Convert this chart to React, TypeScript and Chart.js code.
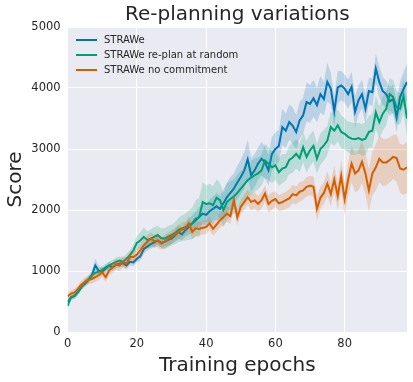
import React, { useEffect, useRef } from "react";
import { Chart, registerables } from "chart.js";

Chart.register(...registerables);

const epochs: number[] = Array.from({ length: 99 }, (_, i) => i);

const straweMean: number[] = [
  490, 570, 590, 660, 740, 790, 850, 930, 1090, 1000,
  990, 1040, 1090, 1060, 1100, 1120, 1130, 1090, 1150, 1140,
  1200, 1240, 1360, 1400, 1440, 1470, 1500, 1460, 1480, 1510,
  1530, 1580, 1640, 1600, 1670, 1720, 1780, 1830, 1890, 1940,
  1920, 1980, 2020, 2060, 2020, 2110, 2210, 2280, 2350, 2450,
  2540, 2650, 2830, 2570, 2650, 2760, 2840, 2780, 2650, 2920,
  3000, 3050, 3360, 3300, 3440, 3380, 3280, 3470, 3550, 3770,
  3740, 3830, 3720, 3900, 3820, 4100, 3990, 3620, 4010, 4040,
  3990, 3900, 4020, 3610, 3800, 3900, 3660, 3950, 3930, 4320,
  4100, 3950, 3900, 3780, 3820, 3520, 3850, 3980, 4100,
];
const straweSd: number[] = [
  40, 40, 45, 50, 50, 55, 60, 70, 110, 80,
  60, 55, 60, 60, 55, 60, 60, 55, 60, 60,
  60, 70, 80, 70, 70, 80, 80, 75, 80, 90,
  90, 100, 110, 100, 110, 130, 140, 150, 160, 180,
  170, 190, 200, 220, 210, 230, 240, 260, 250, 270,
  280, 300, 320, 280, 270, 260, 280, 260, 250, 280,
  270, 260, 300, 280, 290, 300, 280, 300, 290, 320,
  310, 300, 280, 300, 270, 320, 260, 250, 270, 240,
  230, 240, 250, 260, 240, 230, 250, 220, 230, 240,
  260, 230, 220, 240, 230, 250, 260, 280, 300,
];

const randomMean: number[] = [
  430, 570, 590, 650, 740, 820, 860, 930, 970, 990,
  1020, 1060, 1090, 1120, 1150, 1170, 1150, 1200, 1260, 1340,
  1460, 1500, 1560, 1510, 1530, 1560, 1590, 1540, 1530, 1560,
  1590, 1620, 1670, 1700, 1720, 1750, 1780, 1860, 1880, 2130,
  2100, 2110, 2080, 2200, 2160, 2000, 2130, 2180, 2220, 2280,
  2350, 2420, 2490, 2530, 2570, 2600, 2650, 2810, 2760, 2700,
  2730, 2620, 2680, 2700, 2820, 2860, 2920, 2850, 3030, 2870,
  2980, 3050, 2840, 3000, 3060, 3140, 3360, 3300, 3390, 3280,
  3250, 3200, 3170, 3160, 3180, 3150, 3170, 3280, 3300, 3600,
  3440, 3580, 3660, 3900, 3850, 3680, 3660, 3870, 3500,
];
const randomSd: number[] = [
  50, 45, 45, 45, 50, 50, 55, 55, 55, 60,
  60, 60, 60, 65, 70, 70, 75, 80, 85, 90,
  110, 130, 150, 140, 150, 160, 150, 160, 170, 180,
  170, 180, 200, 210, 220, 240, 260, 300, 320, 330,
  300, 320, 310, 300, 290, 280, 300, 290, 280, 300,
  290, 270, 260, 280, 270, 260, 250, 280, 270, 260,
  240, 230, 240, 220, 230, 250, 240, 230, 250, 260,
  260, 250, 240, 260, 250, 240, 260, 250, 260, 270,
  260, 250, 270, 260, 250, 260, 270, 260, 280, 270,
  260, 280, 270, 260, 280, 270, 260, 280, 300,
];

const noCommitMean: number[] = [
  580, 630, 650, 710, 780, 820, 860, 870, 900, 930,
  980, 900, 1010, 1060, 1110, 1090, 1150, 1120, 1230, 1230,
  1270, 1340, 1420, 1480, 1530, 1490, 1500, 1450, 1480, 1520,
  1560, 1600, 1640, 1680, 1700, 1780, 1640, 1700, 1690, 1710,
  1720, 1780, 1690, 1760, 1830, 1880, 1940, 1900, 2160, 1880,
  2050, 2130, 2210, 2130, 2160, 2100, 2160, 2270, 2100, 2150,
  2180, 2110, 2130, 2160, 2190, 2260, 2240, 2300, 2320, 2380,
  2400, 2380, 2020, 2200, 2280, 2430, 2260, 2500, 2230, 2560,
  2180, 2500, 2760, 2600, 2650, 2790, 2600, 2320, 2600, 2700,
  2840, 2780, 2780, 2820, 2870, 2850, 2680, 2660, 2700,
];
const noCommitSd: number[] = [
  60, 60, 60, 60, 70, 70, 70, 75, 80, 80,
  80, 80, 80, 85, 90, 90, 95, 90, 95, 100,
  100, 100, 110, 100, 100, 110, 110, 100, 110, 110,
  110, 110, 120, 120, 110, 120, 120, 120, 110, 110,
  110, 110, 110, 120, 120, 130, 130, 130, 140, 130,
  120, 120, 130, 140, 130, 130, 140, 130, 140, 140,
  130, 130, 140, 140, 150, 150, 150, 160, 150, 160,
  160, 170, 200, 180, 180, 200, 200, 220, 220, 250,
  260, 280, 300, 310, 330, 350, 340, 350, 360, 380,
  380, 390, 380, 370, 360, 390, 400, 410, 420,
];

const seriesNames: string[] = ["STRAWe", "STRAWe re-plan at random", "STRAWe no commitment"];
const seriesColors: string[] = ["#0173B2", "#029E73", "#D55E00"];
const bandColors: string[] = ["rgba(1,115,178,0.2)", "rgba(2,158,115,0.2)", "rgba(213,94,0,0.2)"];
const yTicks: number[] = [0, 1000, 2000, 3000, 4000, 5000];
const xTicks: number[] = [0, 20, 40, 60, 80];

const TEXT = "#262626";
const FONT = "'DejaVu Sans', sans-serif";

export default function App() {
  const ref = useRef<HTMLCanvasElement | null>(null);

  useEffect(() => {
    document.body.style.margin = "0";
    const canvas = ref.current;
    if (!canvas) return;

    const means = [straweMean, randomMean, noCommitMean];
    const sds = [straweSd, randomSd, noCommitSd];
    const pts = (arr: number[]) => arr.map((v, i) => ({ x: epochs[i], y: v }));

    const datasets: any[] = [];
    means.forEach((m, k) => {
      datasets.push({
        label: seriesNames[k],
        data: pts(m),
        borderColor: seriesColors[k],
        backgroundColor: seriesColors[k],
        borderWidth: 2,
        pointRadius: 0,
        tension: 0,
        fill: false,
        order: 2 * (2 - k) + 1,
      });
    });
    means.forEach((m, k) => {
      const lo = m.map((v, i) => v - sds[k][i]);
      const hi = m.map((v, i) => v + sds[k][i]);
      const loIdx = datasets.length;
      datasets.push({
        label: "_lo" + k,
        data: pts(lo),
        borderWidth: 0,
        pointRadius: 0,
        borderColor: "rgba(0,0,0,0)",
        fill: false,
        order: 2 * (2 - k) + 2,
      });
      datasets.push({
        label: "_hi" + k,
        data: pts(hi),
        borderWidth: 0,
        pointRadius: 0,
        borderColor: "rgba(0,0,0,0)",
        backgroundColor: bandColors[k],
        fill: loIdx,
        order: 2 * (2 - k) + 2,
      });
    });

    const deco = {
      id: "deco",
      beforeDraw(chart: any) {
        const { ctx, chartArea } = chart;
        ctx.save();
        ctx.fillStyle = "#ffffff";
        ctx.fillRect(0, 0, chart.width, chart.height);
        ctx.fillStyle = "#EAEAF2";
        ctx.fillRect(chartArea.left, chartArea.top, chartArea.right - chartArea.left, chartArea.bottom - chartArea.top);
        ctx.restore();
      },
      afterDraw(chart: any) {
        const { ctx, chartArea } = chart;
        ctx.save();
        ctx.fillStyle = TEXT;
        ctx.textAlign = "center";
        ctx.textBaseline = "middle";
        ctx.font = `20px ${FONT}`;
        ctx.fillText("Re-planning variations", (chartArea.left + chartArea.right) / 2, 15);
        ctx.fillText("Training epochs", (chartArea.left + chartArea.right) / 2, 366);
        ctx.save();
        ctx.translate(16, (chartArea.top + chartArea.bottom) / 2);
        ctx.rotate(-Math.PI / 2);
        ctx.fillText("Score", 0, 0);
        ctx.restore();
        ctx.font = `10px ${FONT}`;
        ctx.textAlign = "left";
        seriesNames.forEach((name, k) => {
          const y = 40 + k * 15;
          ctx.strokeStyle = seriesColors[k];
          ctx.lineWidth = 2;
          ctx.beginPath();
          ctx.moveTo(76, y);
          ctx.lineTo(97, y);
          ctx.stroke();
          ctx.fillStyle = TEXT;
          ctx.fillText(name, 104, y + 0.5);
        });
        ctx.restore();
      },
    };

    const chart = new Chart(canvas, {
      type: "line",
      data: { datasets },
      options: {
        animation: false,
        responsive: false,
        maintainAspectRatio: false,
        layout: { padding: { left: 0, right: 6, top: 27, bottom: 0 } },
        plugins: {
          legend: { display: false },
          title: { display: false },
          tooltip: { enabled: false },
        },
        scales: {
          x: {
            type: "linear",
            min: 0,
            max: 98,
            afterBuildTicks: (s: any) => {
              s.ticks = xTicks.map((v) => ({ value: v }));
            },
            afterFit: (s: any) => {
              s.height = 50;
            },
            grid: { color: "#ffffff", lineWidth: 1, drawTicks: false },
            border: { display: false },
            ticks: {
              padding: 5,
              color: TEXT,
              font: { family: FONT, size: 11.5 },
              callback: (v: any) => String(v),
              maxRotation: 0,
            },
          },
          y: {
            type: "linear",
            min: 0,
            max: 5000,
            afterBuildTicks: (s: any) => {
              s.ticks = yTicks.map((v) => ({ value: v }));
            },
            afterFit: (s: any) => {
              s.width = 67.6;
            },
            grid: { color: "#ffffff", lineWidth: 1, drawTicks: false },
            border: { display: false },
            ticks: {
              padding: 7,
              color: TEXT,
              font: { family: FONT, size: 11.5 },
              callback: (v: any) => String(v),
            },
          },
        },
      },
      plugins: [deco],
    });
    return () => chart.destroy();
  }, []);

  return (
    <div style={{ width: 413, height: 382 }}>
      <canvas ref={ref} width={413} height={382} style={{ display: "block" }} />
    </div>
  );
}
